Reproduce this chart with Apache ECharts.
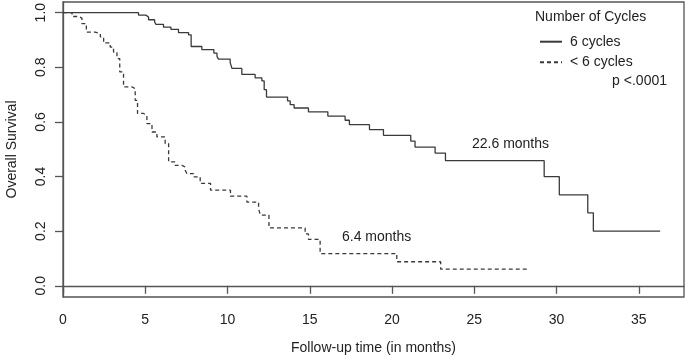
<!DOCTYPE html>
<html>
<head>
<meta charset="utf-8">
<script src="https://cdn.jsdelivr.net/npm/echarts@6/dist/echarts.min.js"></script>
<style>
  html, body { margin: 0; padding: 0; background: #fff; }
  #chart { width: 685px; height: 358px; }
</style>
</head>
<body>
<div id="chart"></div>
<script>
// Kaplan-Meier steps (time in months, survival)
const sixTime = [0, 4.59, 5.04, 5.2, 5.57, 5.65, 6.11, 6.56, 7.02, 7.63, 7.79, 8.44, 9.17, 9.36, 9.45, 10.16, 10.27, 10.87, 11.68, 12.09, 12.23, 12.37, 13.65, 13.81, 14.05, 14.92, 16.1, 17.15, 17.41, 18.63, 19.48, 21.14, 21.4, 22.62, 23.25, 29.25, 30.17, 31.9, 32.24, 36.3]
const sixSurv = [1.0, 0.991, 0.984, 0.974, 0.966, 0.957, 0.947, 0.939, 0.927, 0.919, 0.876, 0.865, 0.852, 0.84, 0.83, 0.818, 0.796, 0.774, 0.761, 0.75, 0.718, 0.691, 0.677, 0.663, 0.651, 0.637, 0.621, 0.606, 0.59, 0.572, 0.551, 0.53, 0.508, 0.486, 0.458, 0.4, 0.333, 0.267, 0.2, 0.2]

const underTime = [0, 0.55, 0.95, 1.15, 1.42, 1.96, 2.27, 2.47, 2.87, 3.07, 3.28, 3.45, 3.68, 4.19, 4.39, 4.53, 4.9, 5.1, 5.41, 5.71, 6.21, 6.42, 6.82, 7.23, 7.43, 7.53, 7.94, 8.34, 8.97, 10.18, 11.18, 11.89, 11.99, 12.52, 14.72, 14.92, 15.63, 20.29, 22.96, 28.23]
const underSurv = [1.0, 0.986, 0.98, 0.96, 0.929, 0.923, 0.911, 0.889, 0.874, 0.856, 0.832, 0.783, 0.728, 0.722, 0.679, 0.631, 0.624, 0.594, 0.563, 0.545, 0.521, 0.454, 0.441, 0.435, 0.423, 0.411, 0.399, 0.375, 0.35, 0.328, 0.306, 0.283, 0.259, 0.212, 0.19, 0.17, 0.118, 0.088, 0.061, 0.061]

const seriesNames = ['6 cycles', '< 6 cycles']
const xTicks = [0, 5, 10, 15, 20, 25, 30, 35]
const yTicks = [0, 0.2, 0.4, 0.6, 0.8, 1.0]

const FONT = 'Liberation Sans, Arial, sans-serif'
const TXT = '#222'
const AX = '#555'
const LINE = '#3a3a3a'

const pairs = (xs, ys) => xs.map((x, i) => [x, ys[i]])

const chart = echarts.init(document.getElementById('chart'))
chart.setOption({
  animation: false,
  textStyle: { fontFamily: FONT },
  grid: {
    left: 63, right: 1, top: 2, bottom: 61, outerBoundsMode: 'none',
    show: true, borderColor: AX, borderWidth: 1.3, backgroundColor: 'transparent'
  },
  xAxis: {
    type: 'value', min: 0, max: 37.75,
    name: 'Follow-up time (in months)', nameLocation: 'middle', nameGap: 44,
    nameTextStyle: { fontSize: 14, color: TXT, fontFamily: FONT },
    splitLine: { show: false },
    axisLine: { show: true, lineStyle: { color: AX, width: 1.3 } },
    axisTick: { show: true, length: 8, customValues: xTicks, lineStyle: { color: AX, width: 1.3 } },
    axisLabel: { customValues: xTicks, margin: 16, fontSize: 14, color: TXT, fontFamily: FONT }
  },
  yAxis: {
    type: 'value', min: -0.041, max: 1.039,
    name: 'Overall Survival', nameLocation: 'middle', nameGap: 44,
    nameTextStyle: { fontSize: 14, color: TXT, fontFamily: FONT },
    splitLine: { show: false },
    axisLine: { show: true, lineStyle: { color: AX, width: 1.3 } },
    axisTick: { show: true, length: 8, customValues: yTicks, lineStyle: { color: AX, width: 1.3 } },
    axisLabel: {
      customValues: yTicks, rotate: 90, margin: 15, align: 'center', verticalAlign: 'bottom',
      fontSize: 14, color: TXT, fontFamily: FONT,
      formatter: v => v.toFixed(1)
    }
  },
  legend: {
    data: seriesNames, orient: 'vertical', left: 534, top: 29.7,
    itemWidth: 22, itemHeight: 14, itemGap: 6.6,
    itemStyle: { color: 'transparent', borderWidth: 0 },
    textStyle: { fontSize: 14, color: TXT, fontFamily: FONT, padding: [0, 0, 0, 3] }
  },
  graphic: [
    { type: 'text', left: 535, top: 10, style: { text: 'Number of Cycles', font: '14px ' + FONT, fill: TXT } },
    { type: 'text', right: 18, top: 74, style: { text: 'p <.0001', font: '14px ' + FONT, fill: TXT } },
    { type: 'text', left: 472, top: 137, style: { text: '22.6 months', font: '14px ' + FONT, fill: TXT } },
    { type: 'text', left: 342, top: 230, style: { text: '6.4 months', font: '14px ' + FONT, fill: TXT } }
  ],
  series: [
    {
      name: seriesNames[0], type: 'line', step: 'end', symbol: 'none', showSymbol: false,
      data: pairs(sixTime, sixSurv),
      lineStyle: { color: LINE, width: 1.3, type: 'solid' },
      itemStyle: { color: LINE }
    },
    {
      name: seriesNames[1], type: 'line', step: 'end', symbol: 'none', showSymbol: false,
      data: pairs(underTime, underSurv),
      lineStyle: { color: LINE, width: 1.3, type: [4, 3] },
      itemStyle: { color: LINE }
    }
  ]
})
</script>
</body>
</html>
